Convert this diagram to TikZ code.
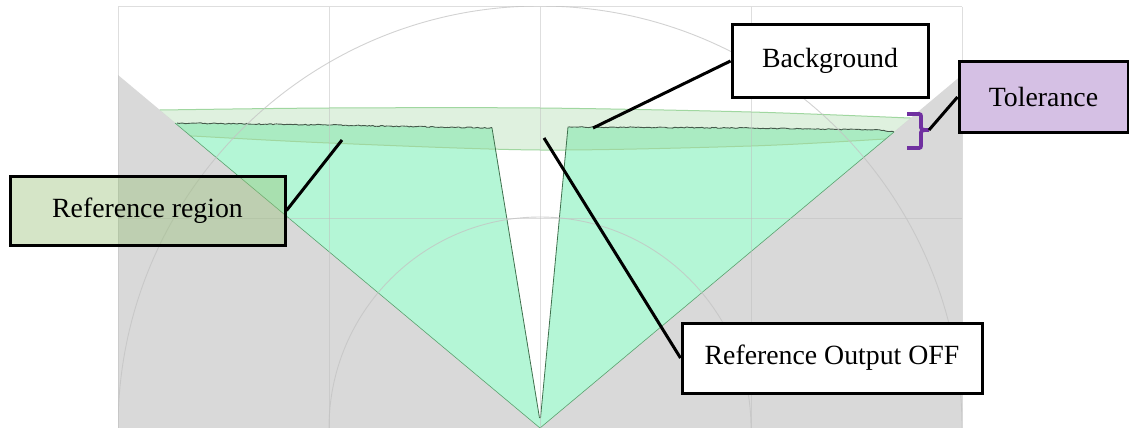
\documentclass[tikz,border=0pt]{standalone}
\usepackage{fontspec}
\setmainfont{Liberation Serif}
\usetikzlibrary{decorations.pathmorphing}
\definecolor{grayreg}{RGB}{217,217,217}
\definecolor{mint}{RGB}{180,246,214}
\definecolor{bandc}{RGB}{150,210,150}
\definecolor{bandline}{RGB}{160,215,160}
\definecolor{refc}{RGB}{150,192,117}
\definecolor{tolc}{RGB}{213,192,228}
\definecolor{bracec}{RGB}{112,48,160}
\definecolor{gridc}{RGB}{190,190,190}
\definecolor{arcc}{RGB}{195,195,195}
\definecolor{edgec}{RGB}{90,160,110}
\definecolor{jagc}{RGB}{70,90,75}
\begin{document}
\begin{tikzpicture}[x=1pt,y=-1pt,
  labelbox/.style={draw=black, line width=3pt, font=\fontsize{27.8}{32}\selectfont, inner sep=0pt, anchor=center},
  leader/.style={draw=black, line width=3pt},
  gridline/.style={draw=gridc, line width=1pt, draw opacity=0.5},
  arcline/.style={draw=arcc, line width=0.9pt, draw opacity=0.75},
  bandedge/.style={draw=bandline, line width=1pt},
  jagged/.style={draw=jagc, line width=0.9pt, decorate, decoration={random steps, segment length=2pt, amplitude=0.5pt}},
  notchedge/.style={draw=edgec!70!black, line width=0.8pt},
  fovedge/.style={draw=edgec, line width=0.6pt},
]
\useasboundingbox (0,0) rectangle (1129,428);
\fill[white] (0,0) rectangle (1129,428);
% gray regions outside field of view
\fill[grayreg] (118,75) -- (540,428) -- (118,428) -- cycle;
\fill[grayreg] (962,75) -- (540,428) -- (962,428) -- cycle;
% inner reference region with notch
\fill[mint] (175,123) -- (329,125) -- (492,128) -- (539.5,418) -- (540.5,418) -- (568,127) -- (751,128) -- (880,130) -- (894,132) -- (540,428) -- cycle;
% tolerance band
\begin{scope}
  \clip (540,428) -- (118,75) -- (118,0) -- (962,0) -- (962,75) -- cycle;
  \fill[bandc, fill opacity=0.3] plot[smooth] coordinates {(140,110.5) (160,110) (329,108) (540,108) (751,112) (910,118) (930,119)}
     -- plot[smooth] coordinates {(905,137) (885,139) (751,146) (540,150) (329,143) (192,136) (170,135)} -- cycle;
  \draw[bandedge] plot[smooth] coordinates {(140,110.5) (160,110) (329,108) (540,108) (751,112) (910,118) (930,119)};
  \draw[bandedge] plot[smooth] coordinates {(905,137) (885,139) (751,146) (540,150) (329,143) (192,136) (170,135)};
\end{scope}
% edges
\draw[jagged] (177,123) -- (329,125) -- (492,128);
\draw[jagged] (568,127) -- (751,128) -- (880,130) -- (894,132);
\draw[notchedge] (492,128) -- (539.5,418);
\draw[notchedge] (568,127) -- (540.5,418);
\draw[fovedge] (175,123) -- (540,428) -- (894,132);
% grid
\foreach \gx in {118,329,540,751,962} \draw[gridline] (\gx,7) -- (\gx,428);
\foreach \gy in {7,218} \draw[gridline] (118,\gy) -- (962,\gy);
\begin{scope}
  \clip (118,7) rectangle (962,428);
  \draw[arcline] (540,428) circle[radius=211pt];
  \draw[arcline] (540,428) circle[radius=422pt];
\end{scope}
% brace
\draw[bracec, line width=3.8pt] (907,114) -- (917,114) .. controls (921,114) .. (921,119) -- (921,125) .. controls (921,130) .. (929,130) .. controls (921,130) .. (921,135) -- (921,143) .. controls (921,148) .. (917,148) -- (907,148);
% label boxes
\node[labelbox, fill=refc, fill opacity=0.4, text opacity=1, minimum width=275pt, minimum height=69pt] (ref) at (147.5,210.5) {Reference region};
\node[labelbox, fill=white, minimum width=196pt, minimum height=72pt] (bg) at (830,61) {Background};
\node[labelbox, fill=tolc, minimum width=169pt, minimum height=70pt] (tol) at (1043.5,97) {Tolerance};
\node[labelbox, fill=white, minimum width=300pt, minimum height=70pt] (off) at (832,358) {Reference Output OFF};
% leader targets
\coordinate (refpt) at (342,140);
\coordinate (bgpt) at (593,128);
\coordinate (tolpt) at (929,130);
\coordinate (offpt) at (544,138);
\draw[leader] (ref.east) -- (refpt);
\draw[leader] (bg.west) -- (bgpt);
\draw[leader] (tol.west) -- (tolpt);
\draw[leader] (off.west) -- (offpt);
\end{tikzpicture}
\end{document}
